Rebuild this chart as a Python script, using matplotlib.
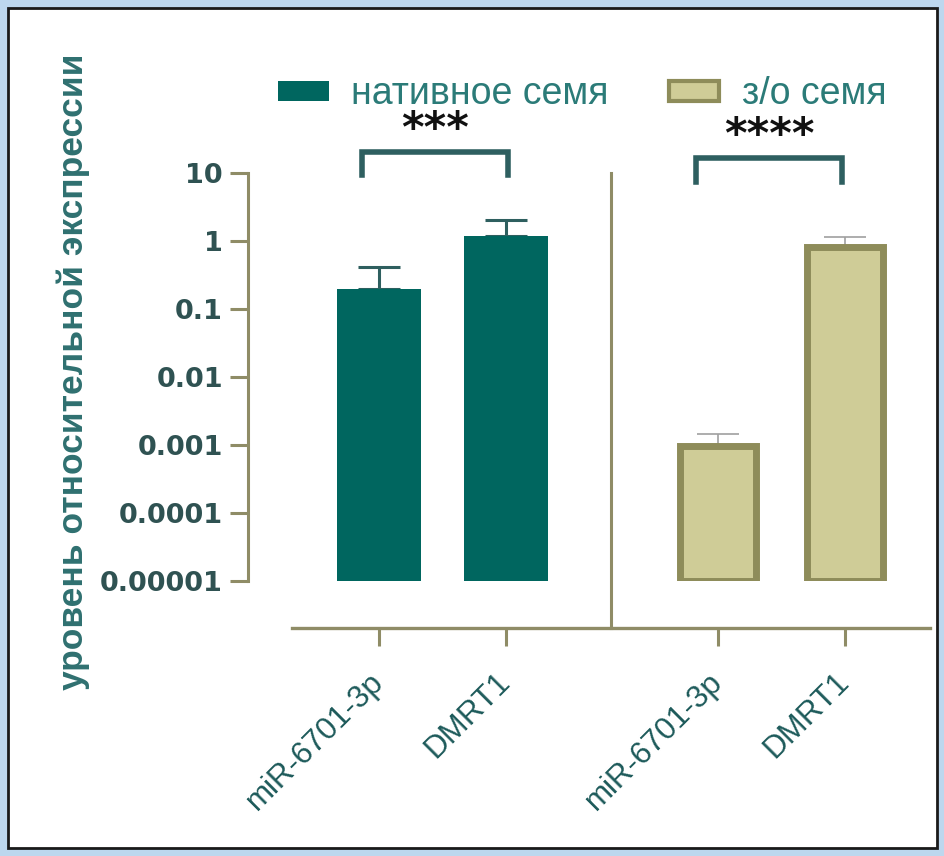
import matplotlib
matplotlib.use("Agg")
import matplotlib.pyplot as plt
from matplotlib.patches import Rectangle, Patch
from matplotlib.lines import Line2D
import matplotlib.transforms as mtransforms
import numpy as np

# ---- data ----
categories = ["miR-6701-3p", "DMRT1", "miR-6701-3p", "DMRT1"]
groups = ["нативное семя", "з/о семя"]
values = [0.20, 1.19, 0.00095, 0.83]
err_upper = [0.41, 2.05, 0.00143, 1.16]
yticks = [1e-5, 1e-4, 1e-3, 1e-2, 1e-1, 1, 10]
ytick_labels = ["0.00001", "0.0001", "0.001", "0.01", "0.1", "1", "10"]
significance = ["***", "****"]
ylabel = "уровень относительной экспрессии"

# ---- styles ----
TEAL = "#00665f"
KHAKI_FILL = "#cfcc97"
KHAKI_EDGE = "#8e8c5a"
AXIS = "#8f8c66"
BRACKET = "#2e5f60"
positions = [0, 1, 2.67, 3.67]

W, H = 945, 856
fig = plt.figure(figsize=(W / 100, H / 100), dpi=100, facecolor="#bdd7ee")
fig.patches.append(Rectangle((8 / W, 8 / H), (W - 16) / W, (H - 16) / H,
                             transform=fig.transFigure, facecolor="white",
                             edgecolor="#1a1a1a", linewidth=2, zorder=-5))

ax = fig.add_axes([292 / W, (H - 580.7) / H, (930 - 292) / W, (580.7 - 173.3) / H])
ax.set_facecolor("none")
ax.set_zorder(2)
ax.set_yscale("log")
ax.set_ylim(1e-5, 10)
ax.set_xlim(-0.685, 4.339)

# bars
ax.bar(positions[:2], [v - 1e-5 for v in values[:2]], bottom=1e-5, width=0.66,
       color=TEAL, edgecolor=TEAL, linewidth=0, zorder=3)
ax.bar(positions[2:], [v - 1e-5 for v in values[2:]], bottom=1e-5, width=0.6,
       color=KHAKI_FILL, edgecolor=KHAKI_EDGE, linewidth=5, zorder=3)

# error bars (upper only)
for i in range(4):
    up = err_upper[i] - values[i]
    col = "#2e5f5f" if i < 2 else "#a0a0a0"
    lw = 2.2 if i < 2 else 1.2
    ax.errorbar(positions[i], values[i], yerr=[[0], [up]], fmt="none",
                ecolor=col, elinewidth=lw, capsize=15, capthick=lw, zorder=2)

# spines
for s in ["top", "right"]:
    ax.spines[s].set_visible(False)
ax.spines["left"].set_position(("outward", 44 * 0.72))
ax.spines["bottom"].set_position(("outward", 47 * 0.72))
ax.spines["left"].set_color(AXIS)
ax.spines["bottom"].set_color(AXIS)
ax.spines["left"].set_linewidth(2.2)
ax.spines["bottom"].set_linewidth(2.4)

ax.set_yticks(yticks)
ax.set_yticklabels(ytick_labels, fontdict=dict(family="DejaVu Sans", weight="bold",
                                               size=19.5, color="#2f5252"))
ax.yaxis.set_minor_locator(matplotlib.ticker.NullLocator())
ax.tick_params(axis="y", length=13, width=2.2, color=AXIS, pad=5)

ax.set_xticks(positions)
ax.set_xticklabels(categories, rotation=45, ha="right", va="center",
                   rotation_mode="anchor", family="Liberation Sans", size=22.5,
                   color="#1d5a5a")
ax.tick_params(axis="x", length=13, width=2.2, color=AXIS, pad=23)

# separator line between groups
trans = mtransforms.blended_transform_factory(ax.transData, ax.transAxes)
sep_x = (positions[1] + positions[2]) / 2 - 0.008
ax.add_line(Line2D([sep_x, sep_x], [1, -47 / 407.4], transform=trans,
                   color=AXIS, linewidth=2.2, clip_on=False))

# significance brackets
brackets = [((positions[0] - 0.134, positions[1] + 0.016), 20.6, 9.4),
            ((positions[2] - 0.174, positions[3] - 0.024), 16.8, 7.4)]
for (x0, x1), top, bot in brackets:
    ax.plot([x0, x0, x1, x1], [bot, top, top, bot], color=BRACKET, linewidth=4,
            solid_joinstyle="miter", clip_on=False)
for ((x0, x1), top, bot), lab in zip(brackets, significance):
    ax.annotate(lab, xy=((x0 + x1) / 2, top), xytext=(0, 7.5), textcoords="offset points",
                ha="center", va="baseline", fontsize=31, fontweight="bold",
                color="#111111", family="DejaVu Sans", annotation_clip=False)

# y label
fig.text(73 / W, 1 - 372 / H, ylabel, rotation=90, ha="center", va="center",
         family="Liberation Sans", fontweight="bold", fontsize=25.5, color="#2f7070")

# legend
handles = [Patch(facecolor=TEAL, edgecolor=TEAL, linewidth=0),
           Patch(facecolor=KHAKI_FILL, edgecolor=KHAKI_EDGE, linewidth=3)]
leg = fig.legend(handles, groups, loc="center left", bbox_to_anchor=(278 / W, 1 - 94 / H),
                 ncol=2, frameon=False, borderpad=0, borderaxespad=0,
                 handlelength=1.35, handleheight=0.45, handletextpad=0.6,
                 columnspacing=1.6, prop=dict(family="Liberation Sans", size=27))
for t in leg.get_texts():
    t.set_color("#2b7b78")

fig.savefig("out.png", dpi=100, facecolor=fig.get_facecolor())
